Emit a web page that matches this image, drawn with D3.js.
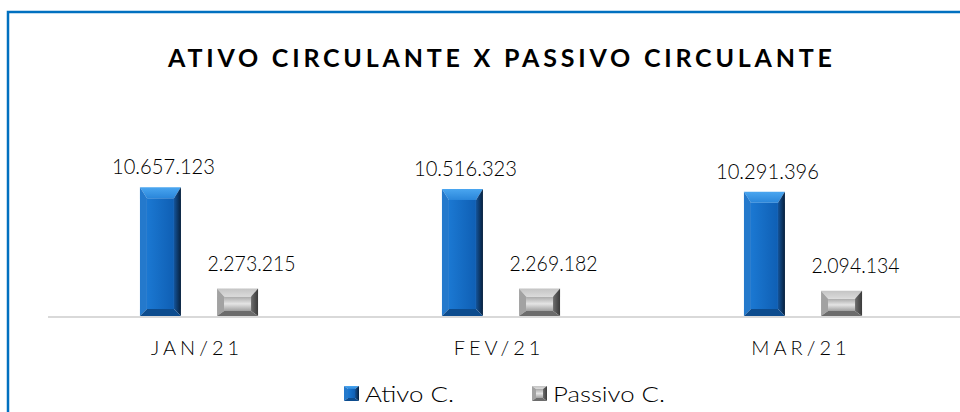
<!DOCTYPE html>
<html>
<head>
<meta charset="utf-8">
<script src="https://cdn.jsdelivr.net/npm/d3@7"></script>
<style>
  html, body { margin: 0; padding: 0; background: #fff; }
  svg { display: block; font-family: Lato, "DejaVu Sans", sans-serif; }
</style>
</head>
<body>
<svg id="chart" width="960" height="412"></svg>
<script>
// data
const categories = ["JAN/21", "FEV/21", "MAR/21"];
const seriesNames = ["Ativo C.", "Passivo C."];
const ativoValues = [10657123, 10516323, 10291396];
const passivoValues = [2273215, 2269182, 2094134];
const chartTitle = "ATIVO CIRCULANTE X PASSIVO CIRCULANTE";

const svg = d3.select("#chart");
const W = 960, H = 412;

// pt-BR number format: 10.657.123
const br = d3.formatLocale({decimal: ",", thousands: ".", grouping: [3], currency: ["R$", ""]});
const fmt = br.format(",d");

// rows for the grouped bars
const rows = categories.map((c, i) => ({cat: c, values: [ativoValues[i], passivoValues[i]]}));

// styles per series (bevel sizes, colours, label nudge)
const looks = [
  {top: 11, side: 7, bottom: 7, face: "gBlueFace", topC: "gBlueTop", left: "#2479cc", right: "gBlueRight", bot: "#0d4c8e", labelDx: 3, labelDy: -13},
  {top: 8, side: 7, bottom: 5, face: "gGrayFace", topC: "gGrayTop", left: "#a2a2a2", right: "gGrayRight", bot: "#6c6c6c", labelDx: 14, labelDy: -18}
];

// gradients
const defs = svg.append("defs");
function grad(id, x2, y2, stops) {
  let g = defs.append("linearGradient").attr("id", id)
    .attr("x1", 0).attr("y1", 0).attr("x2", x2).attr("y2", y2);
  stops.forEach(s => g.append("stop").attr("offset", s[0]).attr("stop-color", s[1]));
}
grad("gBlueFace", 1, 0, [[0, "#1b78d2"], [1, "#0f5fb4"]]);
grad("gBlueTop", 0, 1, [[0, "#4aa6f0"], [1, "#2a86da"]]);
grad("gBlueRight", 1, 0, [[0, "#14549a"], [1, "#061f3c"]]);
grad("gGrayFace", 0, 1, [[0, "#a8a8a8"], [0.5, "#e4e4e4"], [1, "#a0a0a0"]]);
grad("gGrayTop", 0, 1, [[0, "#c4c4c4"], [1, "#dadada"]]);
grad("gGrayRight", 1, 0, [[0, "#6e6e6e"], [1, "#3a3a3a"]]);

// frame (runs off the right and bottom edges as in the reference)
svg.append("rect")
  .attr("x", 8).attr("y", 12).attr("width", W + 40).attr("height", H + 40)
  .attr("fill", "none").attr("stroke", "#0070c0").attr("stroke-width", 2.5);

// title
svg.append("text")
  .attr("x", 500).attr("y", 67)
  .attr("text-anchor", "middle")
  .attr("font-size", 25).attr("font-weight", 700)
  .attr("textLength", 664).attr("lengthAdjust", "spacing")
  .attr("fill", "#000")
  .text(chartTitle);

// scales
const x0 = d3.scaleBand().domain(categories).range([48, 954])
  .paddingInner(0.609).paddingOuter(0.3045);
const x1 = d3.scaleBand().domain(seriesNames).range([0, x0.bandwidth()]).paddingInner(0.468);
const y = d3.scaleLinear().domain([0, 12000000]).range([316, 171]);

// baseline
svg.append("line")
  .attr("x1", 48).attr("x2", W).attr("y1", y(0) + 1).attr("y2", y(0) + 1)
  .attr("stroke", "#d9d9d9").attr("stroke-width", 2);

// bevelled bar drawn as five pieces
function bevel(g, x, yTop, w, h, lk) {
  const t = Math.min(lk.top, h / 2), s = lk.side, b = Math.min(lk.bottom, h / 3);
  const pts = a => a.map(p => p.join(",")).join(" ");
  const fill = c => c.startsWith("#") ? c : "url(#" + c + ")";
  g.append("rect").attr("x", x + s).attr("y", yTop + t).attr("width", w - 2 * s).attr("height", Math.max(0, h - t - b))
    .attr("fill", fill(lk.face));
  g.append("polygon").attr("points", pts([[x, yTop], [x + w, yTop], [x + w - s, yTop + t], [x + s, yTop + t]]))
    .attr("fill", fill(lk.topC));
  g.append("polygon").attr("points", pts([[x, yTop], [x + s, yTop + t], [x + s, yTop + h - b], [x, yTop + h]]))
    .attr("fill", fill(lk.left));
  g.append("polygon").attr("points", pts([[x + w, yTop], [x + w, yTop + h], [x + w - s, yTop + h - b], [x + w - s, yTop + t]]))
    .attr("fill", fill(lk.right));
  g.append("polygon").attr("points", pts([[x, yTop + h], [x + s, yTop + h - b], [x + w - s, yTop + h - b], [x + w, yTop + h]]))
    .attr("fill", fill(lk.bot));
}

const groups = svg.append("g").selectAll("g.grp")
  .data(rows).enter().append("g")
  .attr("class", "grp")
  .attr("transform", d => "translate(" + x0(d.cat) + ",0)");

groups.each(function (d) {
  const g = d3.select(this);
  d.values.forEach((v, i) => {
    const name = seriesNames[i];
    const bx = x1(name), bw = x1.bandwidth();
    bevel(g.append("g"), bx, y(v), bw, y(0) - y(v), looks[i]);
    g.append("text")
      .attr("x", bx + bw / 2 + looks[i].labelDx)
      .attr("y", y(v) + looks[i].labelDy)
      .attr("text-anchor", "middle")
      .attr("font-size", 21)
      .attr("font-weight", 300)
      .attr("textLength", fmt(v).length > 9 ? 103 : 88).attr("lengthAdjust", "spacingAndGlyphs")
      .attr("fill", "#000")
      .text(fmt(v));
  });
});

// category labels
svg.append("g").selectAll("text.cat")
  .data(categories).enter().append("text")
  .attr("class", "cat")
  .attr("x", d => x0(d) + x0.bandwidth() / 2 - 2)
  .attr("y", 355)
  .attr("text-anchor", "middle")
  .attr("font-size", 20)
  .attr("font-weight", 300)
  .attr("letter-spacing", 4)
  .attr("fill", "#000")
  .text(d => d);

// legend
const legendX = [344, 532];
const legendW = [89, 112];
const legend = svg.append("g").selectAll("g.leg")
  .data(seriesNames).enter().append("g")
  .attr("class", "leg")
  .attr("transform", (d, i) => "translate(" + legendX[i] + ",386)");
legend.each(function (d, i) {
  const g = d3.select(this);
  bevel(g.append("g"), 0, 0, 15, 15, {top: 3, side: 4, bottom: 3, face: looks[i].face, topC: looks[i].topC,
    left: looks[i].left, right: looks[i].right, bot: looks[i].bot});
  g.append("text").attr("x", 21).attr("y", 16)
    .attr("font-size", 22).attr("font-weight", 300).attr("fill", "#000")
    .attr("textLength", legendW[i]).attr("lengthAdjust", "spacingAndGlyphs")
    .text(d);
});
</script>
</body>
</html>
